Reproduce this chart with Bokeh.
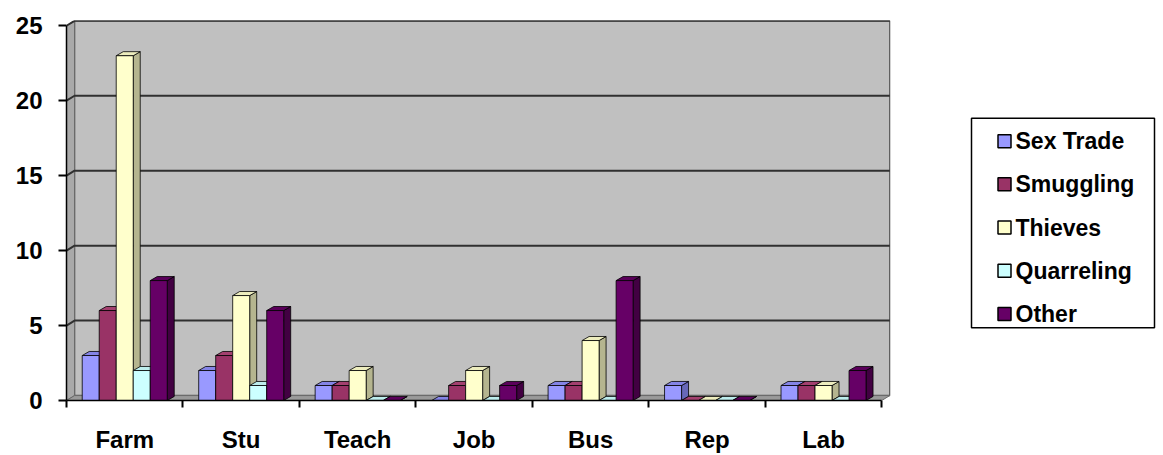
from bokeh.plotting import figure
from bokeh.layouts import row
from bokeh.models import Range1d, FixedTicker
from bokeh.core.properties import value
from bokeh.embed import file_html
from bokeh.resources import INLINE

# ---- data -------------------------------------------------------------
categories = ["Farm", "Stu", "Teach", "Job", "Bus", "Rep", "Lab"]
series_names = ["Sex Trade", "Smuggling", "Thieves", "Quarreling", "Other"]
sex_trade = [3, 2, 1, 0, 1, 1, 1]
smuggling = [6, 3, 1, 1, 1, 0, 1]
thieves = [23, 7, 2, 2, 4, 0, 1]
quarreling = [2, 1, 0, 0, 0, 0, 0]
other = [8, 6, 0, 1, 8, 0, 2]
y_ticks = [0, 5, 10, 15, 20, 25]

series_values = [sex_trade, smuggling, thieves, quarreling, other]

# ---- styling ----------------------------------------------------------
front_colors = ["#9999FF", "#993366", "#FFFFCC", "#CCFFFF", "#660066"]
top_colors = ["#8484E6", "#A3406F", "#EDEDBE", "#BDEDED", "#5A005A"]
side_colors = ["#6868B8", "#6B2447", "#B5B58F", "#8FB5B5", "#420042"]

FONT = "Liberation Sans"
n_cat = len(categories)
y_max = y_ticks[-1]

# 3D depth offsets (data units) for the walls and for the bars
wall_dx, wall_dy = 0.069, 0.33
bar_dx, bar_dy = 0.06, 0.27
bar_w = 0.146
group_start = (1 - bar_w * len(series_names)) / 2

p = figure(
    width=900, height=455,
    x_range=Range1d(0, n_cat + 0.075), y_range=Range1d(0, y_max + 0.35),
    output_backend="svg", toolbar_location=None,
    min_border_left=66, min_border_right=10,
    min_border_top=20, min_border_bottom=54,
)
p.outline_line_color = None
p.xgrid.visible = False
p.ygrid.visible = False
p.background_fill_color = "white"
p.border_fill_color = "white"

# back wall
p.patch([wall_dx, n_cat + wall_dx, n_cat + wall_dx, wall_dx],
        [wall_dy, wall_dy, y_max + wall_dy, y_max + wall_dy],
        fill_color="#C0C0C0", line_color="#5A5A5A", line_width=1.5)
# left side wall
p.patch([0, wall_dx, wall_dx, 0],
        [0, wall_dy, y_max + wall_dy, y_max],
        fill_color="#A9A9A9", line_color="#6A6A6A", line_width=1)
# floor
p.patch([0, n_cat, n_cat + wall_dx, wall_dx],
        [0, 0, wall_dy, wall_dy],
        fill_color="#9A9A9A", line_color="#6A6A6A", line_width=1)

# gridlines running across the side wall and the back wall
grid_vals = [v for v in y_ticks if v > 0]
p.multi_line(
    [[0, wall_dx, n_cat + wall_dx] for _ in grid_vals],
    [[v, v + wall_dy, v + wall_dy] for v in grid_vals],
    line_color="#303030", line_width=2,
)

# 3D columns: side face, top face and front face, drawn left to right
xs, ys, fills = [], [], []
for ci in range(n_cat):
    for si, vals in enumerate(series_values):
        v = vals[ci]
        x0 = ci + group_start + si * bar_w
        x1 = x0 + bar_w
        xs.append([x1, x1 + bar_dx, x1 + bar_dx, x1])
        ys.append([0, bar_dy, v + bar_dy, v])
        fills.append(side_colors[si])
        xs.append([x0, x1, x1 + bar_dx, x0 + bar_dx])
        ys.append([v, v, v + bar_dy, v + bar_dy])
        fills.append(top_colors[si])
        xs.append([x0, x1, x1, x0])
        ys.append([0, 0, v, v])
        fills.append(front_colors[si])
p.patches(xs, ys, fill_color=fills, line_color="black", line_width=0.8)

# axes
p.yaxis.ticker = FixedTicker(ticks=y_ticks)
p.yaxis.bounds = (0, y_max)
p.yaxis.axis_line_color = "black"
p.yaxis.axis_line_width = 1.5
p.yaxis.major_tick_out = 8
p.yaxis.major_tick_in = 0
p.yaxis.major_tick_line_width = 2
p.yaxis.minor_tick_line_color = None
p.yaxis.major_label_standoff = 16
p.yaxis.major_label_text_font = FONT
p.yaxis.major_label_text_font_style = "bold"
p.yaxis.major_label_text_font_size = "24px"
p.yaxis.major_label_text_color = "black"

centers = [i + 0.5 for i in range(n_cat)]
p.xaxis.ticker = FixedTicker(ticks=centers, minor_ticks=list(range(n_cat + 1)))
p.xaxis.major_label_overrides = {c: name for c, name in zip(centers, categories)}
p.xaxis.bounds = (0, n_cat)
p.xaxis.axis_line_color = "black"
p.xaxis.axis_line_width = 1.5
p.xaxis.major_tick_out = 0
p.xaxis.major_tick_in = 0
p.xaxis.minor_tick_out = 7
p.xaxis.minor_tick_in = 0
p.xaxis.minor_tick_line_color = "black"
p.xaxis.minor_tick_line_width = 2
p.xaxis.major_label_standoff = 18
p.xaxis.major_label_text_font = FONT
p.xaxis.major_label_text_font_style = "bold"
p.xaxis.major_label_text_font_size = "24px"
p.xaxis.major_label_text_color = "black"

# ---- legend panel (coordinates are page pixels, offset by the left chart) --
leg = figure(
    width=263, height=455,
    x_range=Range1d(0, 263), y_range=Range1d(401, 20),
    output_backend="svg", toolbar_location=None,
    min_border_left=0, min_border_right=0,
    min_border_top=20, min_border_bottom=54,
)
leg.axis.visible = False
leg.xgrid.visible = False
leg.ygrid.visible = False
leg.outline_line_color = None

leg.rect(x=162.5, y=223, width=183, height=210,
         fill_color="white", line_color="black", line_width=1.5)
item_y = [141 + i * 43.3 for i in range(len(series_names))]
leg.scatter(x=[104] * len(series_names), y=item_y, marker="square", size=13,
            fill_color=front_colors, line_color="black", line_width=1.5)
leg.text(x=[115] * len(series_names), y=item_y, text=series_names,
         text_font=value(FONT), text_font_style="bold", text_font_size="23px",
         text_baseline="middle", text_align="left", text_color="black")

layout = row(p, leg)
open("out.html", "w").write(file_html(layout, INLINE))
